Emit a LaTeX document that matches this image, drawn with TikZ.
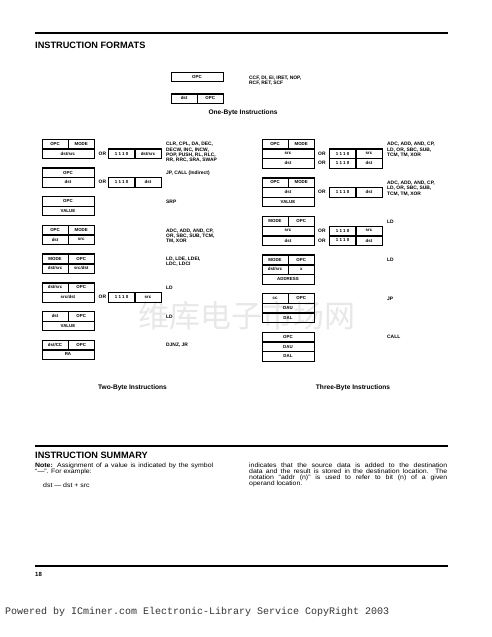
\documentclass[tikz,border=0pt]{standalone}
\usepackage{fontspec}
\setmainfont{Liberation Sans}
\newfontfamily\monofnt{Liberation Mono}
\newfontfamily\cjkfnt{Noto Sans CJK SC}
\newfontfamily\bodyfnt[FakeStretch=1.1]{Liberation Sans}
\newcommand\cellfnt{\fontsize{4.4}{5}\selectfont\bfseries}
\newcommand\descfnt{\fontsize{4.9}{5.3}\selectfont\bfseries}
\newcommand\capfnt{\fontsize{6.6}{7}\selectfont\bfseries}
\newcommand\headfnt{\fontsize{9.2}{10}\selectfont\bfseries}
\newcommand\txtfnt{\bodyfnt\fontsize{6.3}{6}\selectfont}

\begin{document}
\begin{tikzpicture}[x=1pt, y=-1pt,
  fld/.style={draw, line width=0.4pt, inner sep=0pt, minimum height=9.3pt, anchor=north west, font=\cellfnt},
  full/.style={fld, minimum width=51.5pt},
  half/.style={fld, minimum width=25.75pt},
  bit/.style={fld, minimum width=26pt},
  frame/.style={draw, line width=0.8pt},
  desc/.style={anchor=north west, align=left, inner sep=0pt, font=\descfnt},
  orl/.style={inner sep=0pt, font=\descfnt},
  grpcap/.style={inner sep=0pt, font=\capfnt},
  head/.style={anchor=base west, inner sep=0pt, font=\headfnt},
  rulebar/.style={line width=1.1pt},
  txt/.style={anchor=base west, inner sep=0pt, font=\txtfnt}]
\fill[white] (0,0) rectangle (491,637);
\useasboundingbox (0,0) rectangle (491,637);
% Watermark
\node[font=\cjkfnt\fontsize{31}{31}\selectfont, text=black!9] (wmark) at (247,316) {维库电子市场网};
% Heading
\draw[rulebar, line width=1.4pt] (35,33) -- (448,33);
\node[head] (head1) at (35,48.5) {INSTRUCTION FORMATS};
% One-byte formats
\node[full, minimum height=9pt] (o1) at (171,72) {OPC};
\draw[frame] (o1.north west) rectangle (o1.south east);
\node[half, minimum height=9pt] (o2a) at (171,93.5) {dst};
\node[half, minimum height=9pt] (o2b) at (o2a.north east) {OPC};
\draw[frame] (o2a.north west) rectangle (o2b.south east);
\node[desc] (o1t) at (249,75.5) {CCF, DI, EI, IRET, NOP,\\RCF, RET, SCF};
\node[grpcap] (o1c) at (243,113) {One-Byte Instructions};
% Two-byte formats
\node[half] (l1a) at (42,139) {OPC};
\node[half] (l1b) at (l1a.north east) {MODE};
\node[full] (l1c) at (l1a.south west) {dst/src};
\draw[frame] (l1a.north west) rectangle (l1c.south east);
\node[orl] (l1or) at ([xshift=8.5pt]l1c.east) {OR};
\node[bit] (l1x) at ([xshift=14.5pt]l1c.north east) {1 1 1 0};
\node[bit] (l1y) at (l1x.north east) {dst/src};
\draw[frame] (l1x.north west) rectangle (l1y.south east);
\node[desc] (l1t) at (166,142.3) {CLR, CPL, DA, DEC,\\DECW, INC, INCW,\\POP, PUSH, RL, RLC,\\RR, RRC, SRA, SWAP};

\node[full] (l2a) at (42,167.7) {OPC};
\node[full] (l2c) at (l2a.south west) {dst};
\draw[frame] (l2a.north west) rectangle (l2c.south east);
\node[orl] (l2or) at ([xshift=8.5pt]l2c.east) {OR};
\node[bit] (l2x) at ([xshift=14.5pt]l2c.north east) {1 1 1 0};
\node[bit] (l2y) at (l2x.north east) {dst};
\draw[frame] (l2x.north west) rectangle (l2y.south east);
\node[desc] (l2t) at (166,171) {JP, CALL (Indirect)};

\node[full] (l3a) at (42,196.4) {OPC};
\node[full] (l3c) at (l3a.south west) {VALUE};
\draw[frame] (l3a.north west) rectangle (l3c.south east);
\node[desc] (l3t) at (166,199.7) {SRP};

\node[half] (l4a) at (42,225.1) {OPC};
\node[half] (l4b) at (l4a.north east) {MODE};
\node[half] (l4c) at (l4a.south west) {dst};
\node[half] (l4d) at (l4c.north east) {src};
\draw[frame] (l4a.north west) rectangle (l4d.south east);
\node[desc] (l4t) at (166,228.4) {ADC, ADD, AND, CP,\\OR, SBC, SUB, TCM,\\TM, XOR};

\node[half] (l5a) at (42,253.8) {MODE};
\node[half] (l5b) at (l5a.north east) {OPC};
\node[half] (l5c) at (l5a.south west) {dst/src};
\node[half] (l5d) at (l5c.north east) {src/dst};
\draw[frame] (l5a.north west) rectangle (l5d.south east);
\node[desc] (l5t) at (166,257.1) {LD, LDE, LDEI,\\LDC, LDCI};

\node[half] (l6a) at (42,282.5) {dst/src};
\node[half] (l6b) at (l6a.north east) {OPC};
\node[full] (l6c) at (l6a.south west) {src/dst};
\draw[frame] (l6a.north west) rectangle (l6c.south east);
\node[orl] (l6or) at ([xshift=8.5pt]l6c.east) {OR};
\node[bit] (l6x) at ([xshift=14.5pt]l6c.north east) {1 1 1 0};
\node[bit] (l6y) at (l6x.north east) {src};
\draw[frame] (l6x.north west) rectangle (l6y.south east);
\node[desc] (l6t) at (166,285.8) {LD};

\node[half] (l7a) at (42,311.2) {dst};
\node[half] (l7b) at (l7a.north east) {OPC};
\node[full] (l7c) at (l7a.south west) {VALUE};
\draw[frame] (l7a.north west) rectangle (l7c.south east);
\node[desc] (l7t) at (166,314.5) {LD};

\node[half] (l8a) at (42,339.9) {dst/CC};
\node[half] (l8b) at (l8a.north east) {OPC};
\node[full] (l8c) at (l8a.south west) {RA};
\draw[frame] (l8a.north west) rectangle (l8c.south east);
\node[desc] (l8t) at (166,343.2) {DJNZ, JR};
\node[grpcap] (l2cap) at (132.5,387.7) {Two-Byte Instructions};
% Three-byte formats
\node[half] (r1a) at (262,139) {OPC};
\node[half] (r1b) at (r1a.north east) {MODE};
\node[full] (r1c) at (r1a.south west) {src};
\node[full] (r1d) at (r1c.south west) {dst};
\draw[frame] (r1a.north west) rectangle (r1d.south east);
\node[orl] (r1or) at ([xshift=8pt]r1c.east) {OR};
\node[bit] (r1x) at ([xshift=15.5pt]r1c.north east) {1 1 1 0};
\node[bit] (r1y) at (r1x.north east) {src};
\draw[frame] (r1x.north west) rectangle (r1y.south east);
\node[orl] (r1or2) at ([xshift=8pt]r1d.east) {OR};
\node[bit] (r1u) at ([xshift=15.5pt]r1d.north east) {1 1 1 0};
\node[bit] (r1v) at (r1u.north east) {dst};
\draw[frame] (r1u.north west) rectangle (r1v.south east);
\node[desc] (r1t) at (387,142.3) {ADC, ADD, AND, CP,\\LD, OR, SBC, SUB,\\TCM, TM, XOR};

\node[half] (r2a) at (262,177.6) {OPC};
\node[half] (r2b) at (r2a.north east) {MODE};
\node[full] (r2c) at (r2a.south west) {dst};
\node[full] (r2d) at (r2c.south west) {VALUE};
\draw[frame] (r2a.north west) rectangle (r2d.south east);
\node[orl] (r2or) at ([xshift=8pt]r2c.east) {OR};
\node[bit] (r2x) at ([xshift=15.5pt]r2c.north east) {1 1 1 0};
\node[bit] (r2y) at (r2x.north east) {dst};
\draw[frame] (r2x.north west) rectangle (r2y.south east);
\node[desc] (r2t) at (387,180.9) {ADC, ADD, AND, CP,\\LD, OR, SBC, SUB,\\TCM, TM, XOR};

\node[half] (r3a) at (262,216.2) {MODE};
\node[half] (r3b) at (r3a.north east) {OPC};
\node[full] (r3c) at (r3a.south west) {src};
\node[full] (r3d) at (r3c.south west) {dst};
\draw[frame] (r3a.north west) rectangle (r3d.south east);
\node[orl] (r3or) at ([xshift=8pt]r3c.east) {OR};
\node[bit] (r3x) at ([xshift=15.5pt]r3c.north east) {1 1 1 0};
\node[bit] (r3y) at (r3x.north east) {src};
\draw[frame] (r3x.north west) rectangle (r3y.south east);
\node[orl] (r3or2) at ([xshift=8pt]r3d.east) {OR};
\node[bit] (r3u) at ([xshift=15.5pt]r3d.north east) {1 1 1 0};
\node[bit] (r3v) at (r3u.north east) {dst};
\draw[frame] (r3u.north west) rectangle (r3v.south east);
\node[desc] (r3t) at (387,219.5) {LD};

\node[half] (r4a) at (262,254.8) {MODE};
\node[half] (r4b) at (r4a.north east) {OPC};
\node[half] (r4c) at (r4a.south west) {dst/src};
\node[half] (r4d) at (r4c.north east) {x};
\node[full] (r4e) at (r4c.south west) {ADDRESS};
\draw[frame] (r4a.north west) rectangle (r4e.south east);
\node[desc] (r4t) at (387,258.1) {LD};

\node[half] (r5a) at (262,293.4) {cc};
\node[half] (r5b) at (r5a.north east) {OPC};
\node[full] (r5c) at (r5a.south west) {DAU};
\node[full] (r5d) at (r5c.south west) {DAL};
\draw[frame] (r5a.north west) rectangle (r5d.south east);
\node[desc] (r5t) at (387,296.7) {JP};

\node[full] (r6a) at (262,332) {OPC};
\node[full] (r6c) at (r6a.south west) {DAU};
\node[full] (r6d) at (r6c.south west) {DAL};
\draw[frame] (r6a.north west) rectangle (r6d.south east);
\node[desc] (r6t) at (387,335.3) {CALL};
\node[grpcap] (r3cap) at (353,387.7) {Three-Byte Instructions};
% Summary
\draw[rulebar] (35,446) -- (448,446);
\node[head] (head2) at (35,458.5) {INSTRUCTION SUMMARY};
\node[txt] (s1) at (35,467) {\makebox[178pt][s]{\textbf{Note:} Assignment of a value is indicated by the symbol}};
\node[txt] (s2) at (35,473.3) {“—”. For example:};
\node[txt] (s3) at (43,487.5) {dst — dst + src};
\node[txt] (s4) at (249,467) {\makebox[198pt][s]{indicates that the source data is added to the destination}};
\node[txt] (s5) at (249,473.3) {\makebox[198pt][s]{data and the result is stored in the destination location. The}};
\node[txt] (s6) at (249,479.6) {\makebox[198pt][s]{notation “addr (n)” is used to refer to bit (n) of a given}};
\node[txt] (s7) at (249,485.9) {operand location.};
% Footer
\draw[rulebar] (35,566) -- (448,566);
\node[anchor=west, inner sep=0pt, font=\fontsize{6}{6}\selectfont\bfseries] (pg) at (35,574) {18};
\node[anchor=west, inner sep=0pt, font=\monofnt\fontsize{10}{10}\selectfont, text=black!80] (pw) at (5,612) {Powered by ICminer.com Electronic-Library Service CopyRight 2003};
\end{tikzpicture}
\end{document}
